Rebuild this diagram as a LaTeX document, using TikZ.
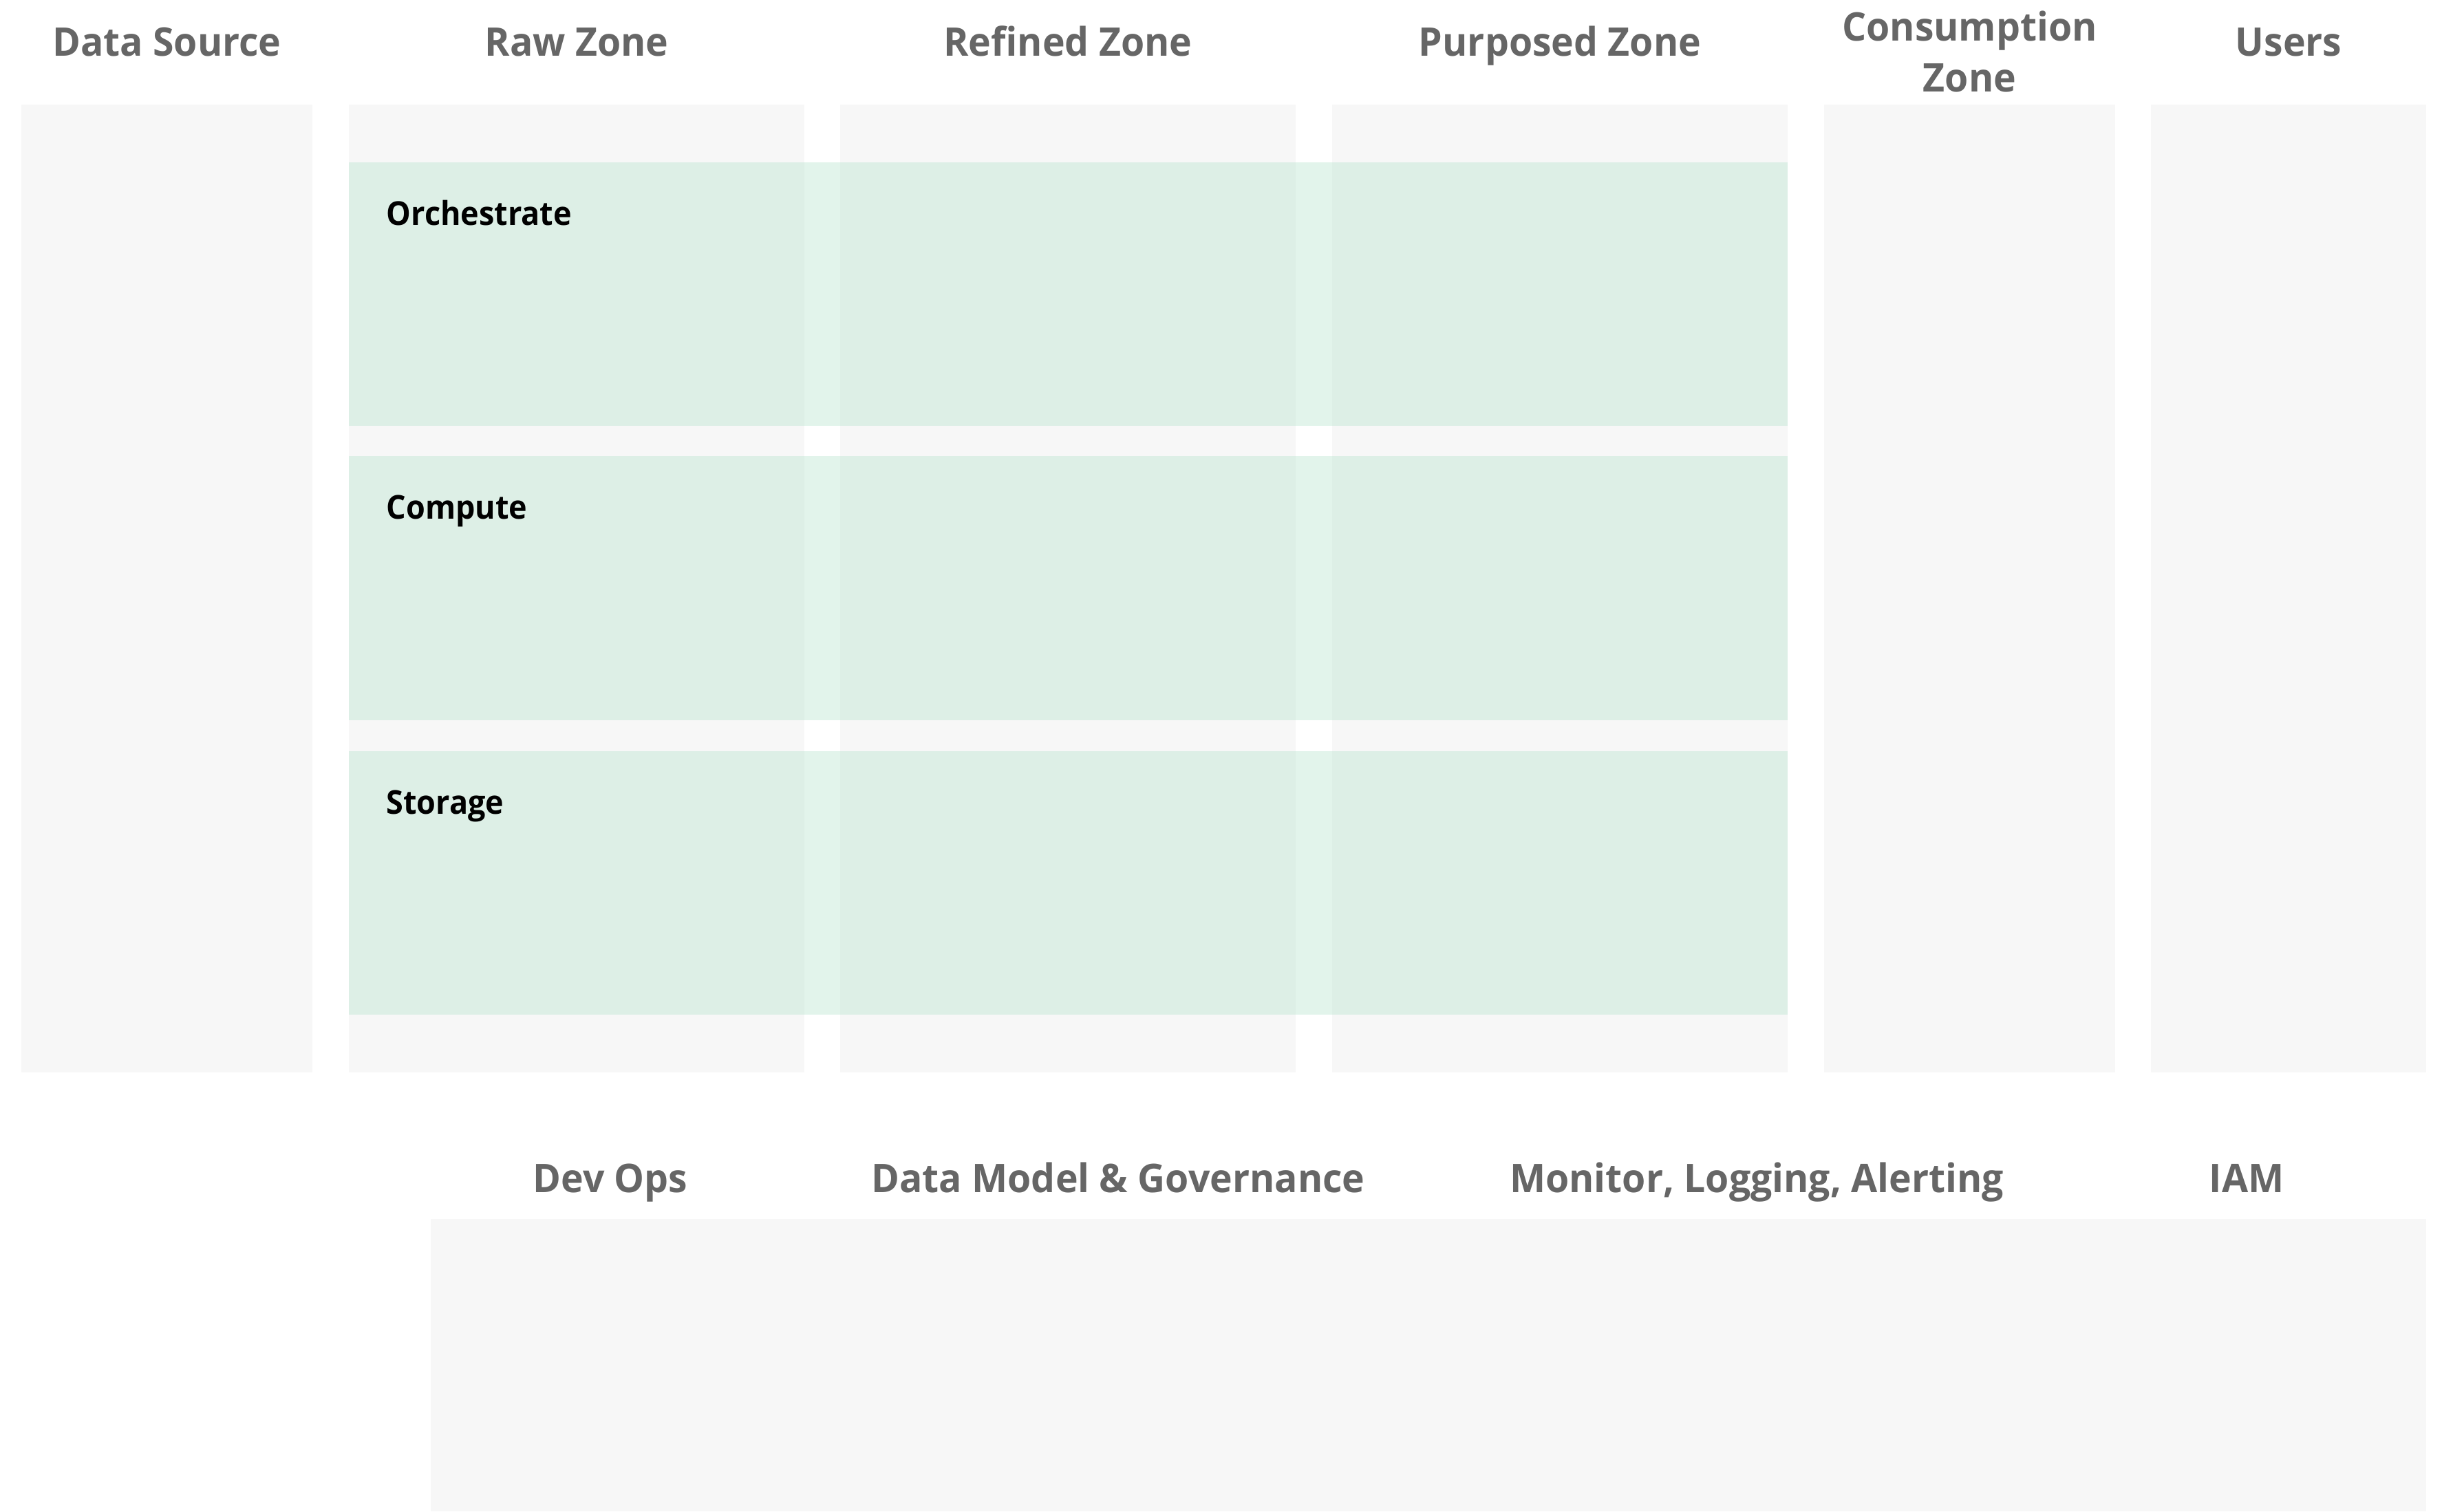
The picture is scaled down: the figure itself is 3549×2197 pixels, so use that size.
\documentclass[tikz,border=0pt]{standalone}
\usepackage{fontspec}
\setmainfont{Open Sans}
\newfontfamily\headfont[FakeStretch=0.965]{Open Sans}
\newfontfamily\bandfont[FakeStretch=0.94]{Open Sans}
\definecolor{colgray}{HTML}{F7F7F7}
\definecolor{headgray}{HTML}{666666}
\definecolor{bandgreen}{RGB}{178,228,204}
\begin{document}
\begin{tikzpicture}[x=0.01cm,y=-0.01cm,
  column/.style={fill=colgray,draw=none},
  band/.style={fill=bandgreen,fill opacity=0.375,draw=none},
  header/.style={text=headgray,font=\headfont\bfseries\fontsize{16.3pt}{20pt}\selectfont,anchor=base,inner sep=0pt,align=center},
  bandlabel/.style={text=black,font=\bandfont\bfseries\fontsize{13.6pt}{16pt}\selectfont,anchor=base west,inner sep=0pt}]
\useasboundingbox[fill=white] (0,0) rectangle (3549,2197);
% columns
\fill[column] (31,152) rectangle (454,1559);
\fill[column] (507,152) rectangle (1169,1559);
\fill[column] (1221,152) rectangle (1883,1559);
\fill[column] (1936,152) rectangle (2598,1559);
\fill[column] (2651,152) rectangle (3074,1559);
\fill[column] (3126,152) rectangle (3526,1559);
% bottom box
\fill[column] (626,1772) rectangle (3526,2197);
% bands
\fill[band] (507,236) rectangle (2598,619);
\fill[band] (507,663) rectangle (2598,1047);
\fill[band] (507,1092) rectangle (2598,1475);
% headers
\node[header] (hds) at (242.5,82) {Data Source};
\node[header] (hraw) at (838,82) {Raw Zone};
\node[header] (href) at (1552,82) {Refined Zone};
\node[header] (hpur) at (2267,82) {Purposed Zone};
\node[header] (hcon1) at (2862.5,60) {Consumption};
\node[header] (hcon2) at (2862.5,134) {Zone};
\node[header] (husr) at (3326,82) {Users};
% band labels
\node[bandlabel] (lorch) at (561,327) {Orchestrate};
\node[bandlabel] (lcomp) at (561,754) {Compute};
\node[bandlabel] (lstor) at (561,1183) {Storage};
% bottom headers
\node[header] (hdev) at (887,1733) {Dev Ops};
\node[header] (hdm) at (1625,1733) {Data Model \& Governance};
\node[header] (hmon) at (2553,1733) {Monitor, Logging, Alerting};
\node[header] (hiam) at (3265,1733) {IAM};
\end{tikzpicture}
\end{document}
